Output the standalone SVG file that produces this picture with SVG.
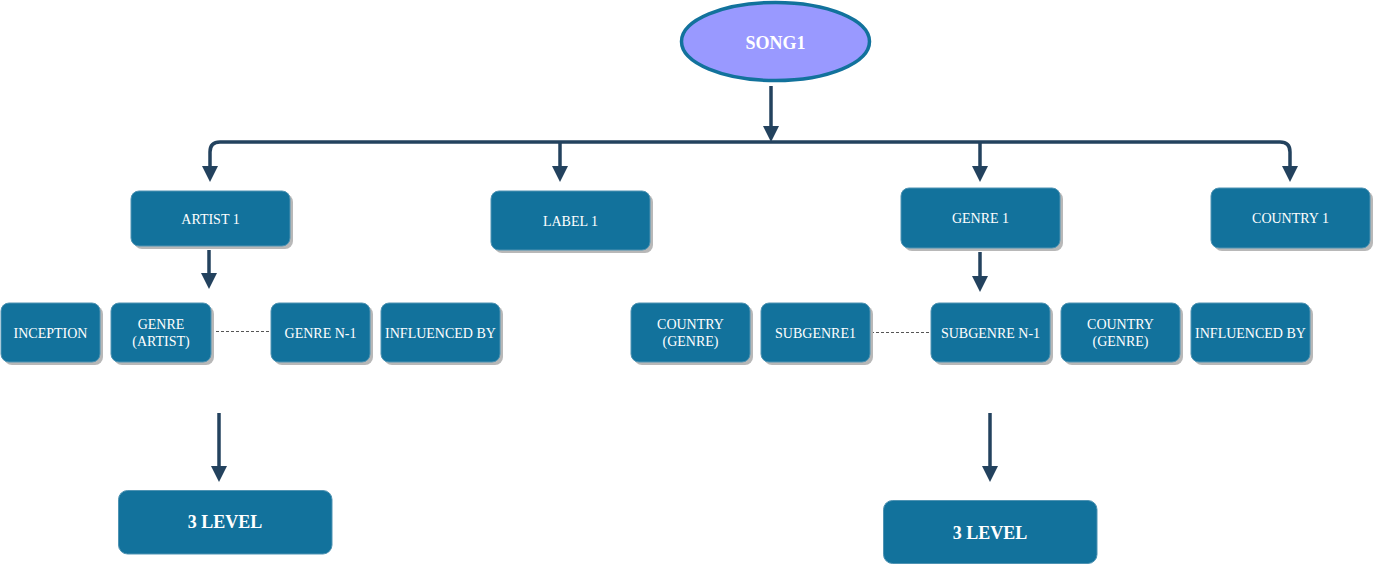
<svg xmlns="http://www.w3.org/2000/svg" width="1374" height="564" viewBox="0 0 1374 564">
<style>
.box{fill:#12729c;stroke:#4f93b3;stroke-width:1}
.sh{fill:#b8b8b8}
.t{font-family:"Liberation Serif","Times New Roman",serif;font-size:14px;fill:#ffffff;text-anchor:middle}
.b{font-family:"Liberation Serif","Times New Roman",serif;font-size:18px;font-weight:bold;fill:#ffffff;text-anchor:middle}
.c{fill:none;stroke:#23425e;stroke-width:3.5}
.d{fill:none;stroke:#555555;stroke-width:1;stroke-dasharray:3,2}
</style>
<defs>
<marker id="ah" markerUnits="userSpaceOnUse" markerWidth="16" markerHeight="16" viewBox="0 0 16 16" refX="1" refY="8" orient="auto">
<path d="M0,0 L16,8 L0,16 z" fill="#23425e"/>
</marker>
</defs>
<rect width="1374" height="564" fill="#ffffff"/>
<g id="connectors">
<path class="c" d="M771,86 V127" marker-end="url(#ah)"/>
<path class="c" d="M771,142 H220 Q210,142 210,152 V167" marker-end="url(#ah)"/>
<path class="c" d="M771,142 H1280 Q1290,142 1290,152 V167" marker-end="url(#ah)"/>
<path class="c" d="M560,142 V167" marker-end="url(#ah)"/>
<path class="c" d="M980,142 V167" marker-end="url(#ah)"/>
<path class="c" d="M209,250 V274" marker-end="url(#ah)"/>
<path class="c" d="M980,252 V277" marker-end="url(#ah)"/>
<path class="c" d="M219,413 V467" marker-end="url(#ah)"/>
<path class="c" d="M990,413 V467" marker-end="url(#ah)"/>
<path class="d" d="M211,331.5 H270"/>
<path class="d" d="M871,332.5 H931"/>
</g>
<g id="song1">
<ellipse cx="775.5" cy="41.5" rx="94" ry="39" fill="#9999ff" stroke="#12729c" stroke-width="3.5"/>
<text class="b" x="775.5" y="49">SONG1</text>
</g>
<g id="artist1">
<rect class="sh" x="134" y="194" width="159" height="55" rx="8"/>
<rect class="box" x="131" y="191" width="159" height="55" rx="8"/>
<text class="t" x="210.5" y="224">ARTIST 1</text>
</g>
<g id="label1">
<rect class="sh" x="494" y="194" width="159" height="59" rx="8"/>
<rect class="box" x="491" y="191" width="159" height="59" rx="8"/>
<text class="t" x="570.5" y="226">LABEL 1</text>
</g>
<g id="genre1">
<rect class="sh" x="904" y="191" width="159" height="60" rx="8"/>
<rect class="box" x="901" y="188" width="159" height="60" rx="8"/>
<text class="t" x="980.5" y="223">GENRE 1</text>
</g>
<g id="country1">
<rect class="sh" x="1214" y="191" width="159" height="60" rx="8"/>
<rect class="box" x="1211" y="188" width="159" height="60" rx="8"/>
<text class="t" x="1290.5" y="223">COUNTRY 1</text>
</g>
<g id="inception">
<rect class="sh" x="4" y="306" width="99" height="59" rx="8"/>
<rect class="box" x="1" y="303" width="99" height="59" rx="8"/>
<text class="t" x="50.5" y="338">INCEPTION</text>
</g>
<g id="genre-artist">
<rect class="sh" x="114" y="306" width="100" height="59" rx="8"/>
<rect class="box" x="111" y="303" width="100" height="59" rx="8"/>
<text class="t" x="161" y="329">GENRE</text>
<text class="t" x="161" y="346">(ARTIST)</text>
</g>
<g id="genre-n-1">
<rect class="sh" x="274" y="306" width="99" height="59" rx="8"/>
<rect class="box" x="271" y="303" width="99" height="59" rx="8"/>
<text class="t" x="320.5" y="338">GENRE N-1</text>
</g>
<g id="influenced-by-artist">
<rect class="sh" x="384" y="306" width="119" height="59" rx="8"/>
<rect class="box" x="381" y="303" width="119" height="59" rx="8"/>
<text class="t" x="440.5" y="338">INFLUENCED BY</text>
</g>
<g id="country-genre-1">
<rect class="sh" x="634" y="306" width="119" height="59" rx="8"/>
<rect class="box" x="631" y="303" width="119" height="59" rx="8"/>
<text class="t" x="690.5" y="329">COUNTRY</text>
<text class="t" x="690.5" y="346">(GENRE)</text>
</g>
<g id="subgenre1">
<rect class="sh" x="764" y="306" width="109" height="59" rx="8"/>
<rect class="box" x="761" y="303" width="109" height="59" rx="8"/>
<text class="t" x="815.5" y="338">SUBGENRE1</text>
</g>
<g id="subgenre-n-1">
<rect class="sh" x="934" y="306" width="119" height="59" rx="8"/>
<rect class="box" x="931" y="303" width="119" height="59" rx="8"/>
<text class="t" x="990.5" y="338">SUBGENRE N-1</text>
</g>
<g id="country-genre-2">
<rect class="sh" x="1064" y="306" width="119" height="59" rx="8"/>
<rect class="box" x="1061" y="303" width="119" height="59" rx="8"/>
<text class="t" x="1120.5" y="329">COUNTRY</text>
<text class="t" x="1120.5" y="346">(GENRE)</text>
</g>
<g id="influenced-by-genre">
<rect class="sh" x="1194" y="306" width="119" height="59" rx="8"/>
<rect class="box" x="1191" y="303" width="119" height="59" rx="8"/>
<text class="t" x="1250.5" y="338">INFLUENCED BY</text>
</g>
<g id="level3-left">
<rect class="box" x="118.5" y="490.5" width="213.5" height="63.5" rx="9"/>
<text class="b" x="225" y="528">3 LEVEL</text>
</g>
<g id="level3-right">
<rect class="box" x="883.5" y="500.5" width="213.5" height="63" rx="9"/>
<text class="b" x="990" y="539">3 LEVEL</text>
</g>
</svg>
